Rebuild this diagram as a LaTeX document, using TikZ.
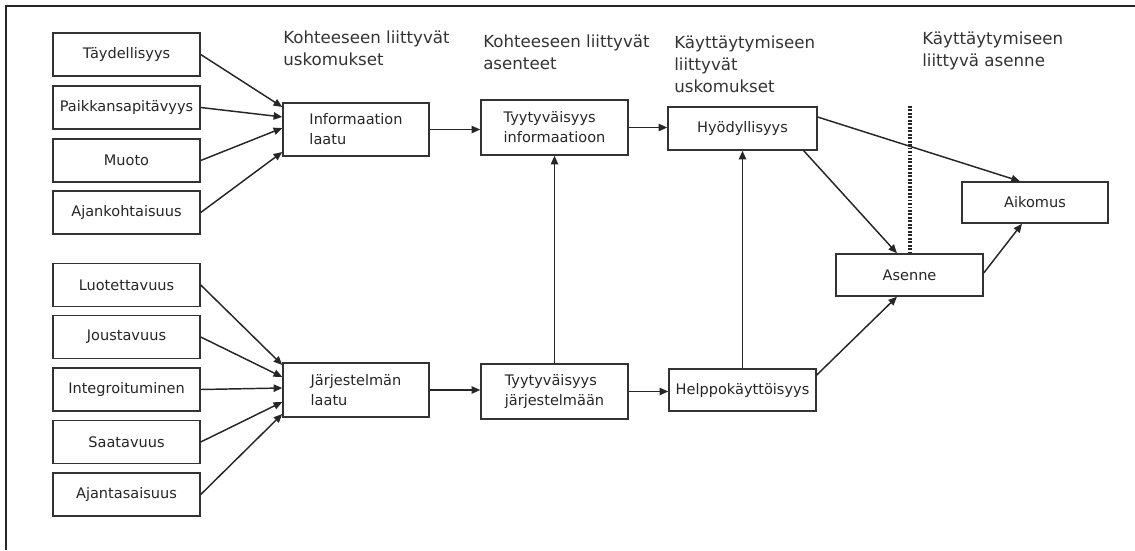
\documentclass[tikz,border=0pt]{standalone}
\usepackage{fontspec}
\setmainfont{DejaVu Sans}
\usetikzlibrary{arrows.meta}
\begin{document}
\begin{tikzpicture}[x=0.75pt,y=-0.75pt,
  box/.style={draw=black!80, line width=1.1pt, inner sep=0pt,
    minimum width=110.25pt, minimum height=32pt, align=center,
    font=\fontsize{10.9}{15}\selectfont, text=black!85},
  boxl/.style={box, align=left},
  hdr/.style={inner sep=0pt, anchor=west, align=left,
    font=\fontsize{12.5}{16.5}\selectfont, text=black!80},
  conn/.style={draw=black!85, line width=1.1pt,
    -{Triangle[length=6.5pt,width=5.5pt]}},
  sep/.style={draw=black!85, line width=2.4pt, dash pattern=on 1.4pt off 1.2pt}
]
\useasboundingbox (0,0) rectangle (1135,550);

% outer frame (left and top sides only)
\coordinate (fb) at (6,550);
\coordinate (fc) at (6,6);
\coordinate (fr) at (1135,6);
\draw[black!85, line width=1.8pt] (fb) -- (fc) -- (fr);

% column headings
\node[hdr] (h1) at (283,48)   {Kohteeseen liittyvät\\uskomukset};
\node[hdr] (h2) at (483,52)   {Kohteeseen liittyvät\\asenteet};
\node[hdr] (h3) at (674,64)   {Käyttäytymiseen\\liittyvät\\uskomukset};
\node[hdr] (h4) at (922,51)   {Käyttäytymiseen\\liittyvä asenne};

% information quality factors
\node[box] (t1) at (126.5,54.5)  {Täydellisyys};
\node[box] (t2) at (126.5,107.5) {Paikkansapitävyys};
\node[box] (t3) at (126.5,160.5) {Muoto};
\node[box] (t4) at (126.5,212.5) {Ajankohtaisuus};

% system quality factors
\node[box] (s1) at (126.5,285)   {Luotettavuus};
\node[box] (s2) at (126.5,337)   {Joustavuus};
\node[box] (s3) at (126.5,389.5) {Integroituminen};
\node[box] (s4) at (126.5,442)   {Saatavuus};
\node[box] (s5) at (126.5,494.5) {Ajantasaisuus};

% main chain
\node[boxl, minimum width=109.5pt, minimum height=39.75pt] (il) at (356,129.5) {Informaation\\laatu};
\node[boxl, minimum width=109.5pt, minimum height=40.5pt] (jl) at (356,390) {Järjestelmän\\laatu};
\node[boxl, minimum height=41.25pt] (ti) at (554.5,127.5) {Tyytyväisyys\\informaatioon};
\node[boxl, minimum height=41.25pt] (tj) at (554.5,391.5) {Tyytyväisyys\\järjestelmään};
\node[box, minimum width=111.75pt, minimum height=32.25pt] (hy) at (742.5,128.5) {Hyödyllisyys};
\node[box, minimum height=31.5pt] (hp) at (742.5,390) {Helppokäyttöisyys};
\node[box, minimum height=31.5pt] (as) at (909.5,275) {Asenne};
\node[box, minimum width=109.5pt, minimum height=30.75pt] (ai) at (1035,202.5) {Aikomus};

% dotted separator above Asenne
\coordinate (dtop) at (910,106);
\draw[sep] (dtop) -- (dtop |- as.north);

% factors into quality boxes
\draw[conn] (t1.east) -- ([yshift=16.9pt]il.west);
\draw[conn] (t2.east) -- ([yshift=9.4pt]il.west);
\draw[conn] (t3.east) -- ([yshift=1.1pt]il.west);
\draw[conn] (t4.east) -- ([yshift=-16.9pt]il.west);

\draw[conn] (s1.east) -- ([yshift=18.75pt]jl.west);
\draw[conn] (s2.east) -- ([yshift=9.75pt]jl.west);
\draw[conn] (s3.east) -- ([yshift=1.5pt]jl.west);
\draw[conn] (s4.east) -- ([yshift=-9pt]jl.west);
\draw[conn] (s5.east) -- ([yshift=-18pt]jl.west);

% chain connectors
\draw[conn] (il.east) -- (il.east -| ti.west);
\draw[conn] (ti.east) -- (ti.east -| hy.west);
\draw[conn] (jl.east) -- (jl.east -| tj.west);
\draw[conn] (tj.east) -- (tj.east -| hp.west);
\draw[conn] (tj.north) -- (ti.south);
\draw[conn] (hp.north) -- (hy.south);
\draw[conn] ([yshift=8.6pt]hy.east) -- ([xshift=-11.25pt]ai.north);
\draw[conn] ([xshift=-10.5pt]hy.south east) -- ([xshift=-9.4pt]as.north);
\draw[conn] ([yshift=11.25pt]hp.east) -- ([xshift=-9.4pt]as.south);
\draw[conn] ([yshift=1.5pt]as.east) -- ([xshift=-9.75pt]ai.south);
\end{tikzpicture}
\end{document}
